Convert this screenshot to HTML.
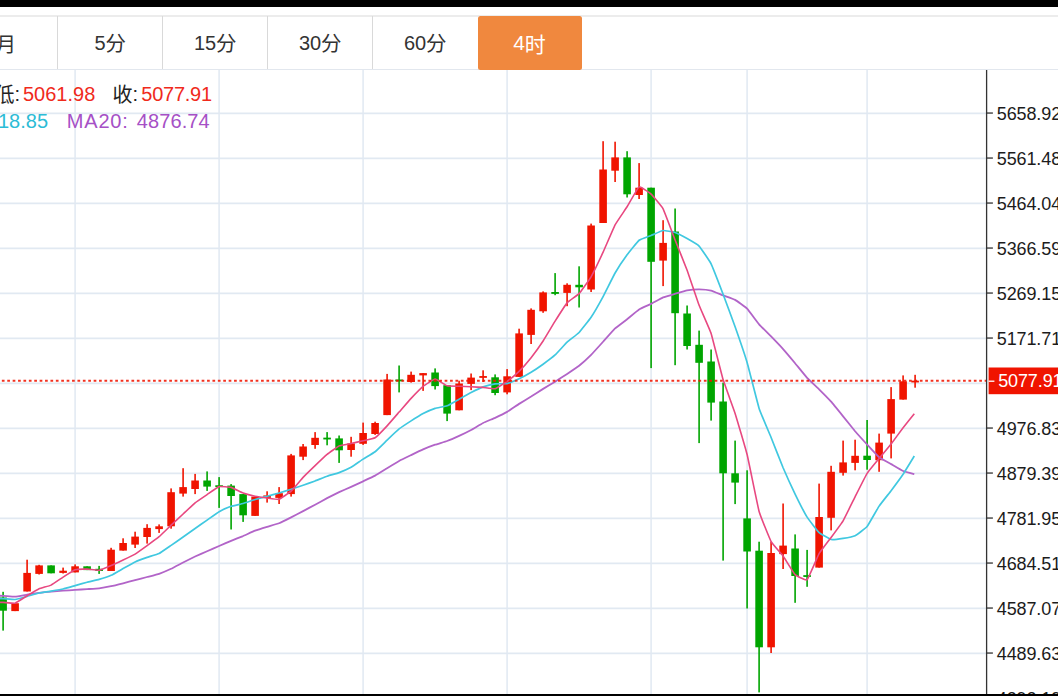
<!DOCTYPE html>
<html><head><meta charset="utf-8"><title>chart</title>
<style>
html,body{margin:0;padding:0;background:#fff;}
body{width:1058px;height:696px;position:relative;overflow:hidden;font-family:"Liberation Sans",sans-serif;}
.abs{position:absolute;}
.t{position:absolute;white-space:pre;line-height:1;font-family:"Liberation Sans",sans-serif;}
.c{font-family:"Liberation Sans","Noto Sans CJK SC",sans-serif;}
</style></head><body>
<div class="abs" style="left:0;top:0;width:1058px;height:7px;background:#000"></div>
<div class="abs" style="left:0;top:15.3px;width:1058px;height:1.5px;background:#ececec"></div>
<div class="abs" style="left:0;top:69px;width:1058px;height:1.4px;background:#e2e7ee"></div>
<div class="abs" style="left:57px;top:16px;width:1px;height:53px;background:#d9d9d9"></div>
<div class="abs" style="left:162px;top:16px;width:1px;height:53px;background:#d9d9d9"></div>
<div class="abs" style="left:267px;top:16px;width:1px;height:53px;background:#d9d9d9"></div>
<div class="abs" style="left:372px;top:16px;width:1px;height:53px;background:#d9d9d9"></div>
<div class="abs" style="left:478.2px;top:16.4px;width:104px;height:53.2px;background:#f0883e;border-radius:2.5px"></div>
<svg width="1058" height="626" viewBox="0 70 1058 626" style="position:absolute;left:0;top:70px;display:block"><line x1="0" y1="113.40" x2="986.60" y2="113.40" stroke="#e1e9f2" stroke-width="1.6"/><line x1="0" y1="158.40" x2="986.60" y2="158.40" stroke="#e1e9f2" stroke-width="1.6"/><line x1="0" y1="203.40" x2="986.60" y2="203.40" stroke="#e1e9f2" stroke-width="1.6"/><line x1="0" y1="248.40" x2="986.60" y2="248.40" stroke="#e1e9f2" stroke-width="1.6"/><line x1="0" y1="293.40" x2="986.60" y2="293.40" stroke="#e1e9f2" stroke-width="1.6"/><line x1="0" y1="338.40" x2="986.60" y2="338.40" stroke="#e1e9f2" stroke-width="1.6"/><line x1="0" y1="383.40" x2="986.60" y2="383.40" stroke="#e1e9f2" stroke-width="1.6"/><line x1="0" y1="428.40" x2="986.60" y2="428.40" stroke="#e1e9f2" stroke-width="1.6"/><line x1="0" y1="473.40" x2="986.60" y2="473.40" stroke="#e1e9f2" stroke-width="1.6"/><line x1="0" y1="518.40" x2="986.60" y2="518.40" stroke="#e1e9f2" stroke-width="1.6"/><line x1="0" y1="563.40" x2="986.60" y2="563.40" stroke="#e1e9f2" stroke-width="1.6"/><line x1="0" y1="608.40" x2="986.60" y2="608.40" stroke="#e1e9f2" stroke-width="1.6"/><line x1="0" y1="653.40" x2="986.60" y2="653.40" stroke="#e1e9f2" stroke-width="1.6"/><line x1="75.10" y1="70" x2="75.10" y2="696" stroke="#e1e9f2" stroke-width="1.5"/><line x1="219.10" y1="70" x2="219.10" y2="696" stroke="#e1e9f2" stroke-width="1.5"/><line x1="363.10" y1="70" x2="363.10" y2="696" stroke="#e1e9f2" stroke-width="1.5"/><line x1="507.10" y1="70" x2="507.10" y2="696" stroke="#e1e9f2" stroke-width="1.5"/><line x1="651.10" y1="70" x2="651.10" y2="696" stroke="#e1e9f2" stroke-width="1.5"/><line x1="747.10" y1="70" x2="747.10" y2="696" stroke="#e1e9f2" stroke-width="1.5"/><line x1="867.10" y1="70" x2="867.10" y2="696" stroke="#e1e9f2" stroke-width="1.5"/><rect x="2.30" y="591.80" width="1.60" height="38.80" fill="#00a500"/><rect x="-0.70" y="597.50" width="7.60" height="13.20" fill="#00a500"/><rect x="14.30" y="603.20" width="1.60" height="7.90" fill="#f01400"/><rect x="11.30" y="603.20" width="7.60" height="7.90" fill="#f01400"/><rect x="26.30" y="559.70" width="1.60" height="31.80" fill="#f01400"/><rect x="23.30" y="572.90" width="7.60" height="18.60" fill="#f01400"/><rect x="38.30" y="564.80" width="1.60" height="9.70" fill="#f01400"/><rect x="35.30" y="565.40" width="7.60" height="8.50" fill="#f01400"/><rect x="50.30" y="565.40" width="1.60" height="7.90" fill="#00a500"/><rect x="47.30" y="565.40" width="7.60" height="7.90" fill="#00a500"/><rect x="62.30" y="567.60" width="1.60" height="5.90" fill="#f01400"/><rect x="59.30" y="570.70" width="7.60" height="2.20" fill="#f01400"/><rect x="74.30" y="564.40" width="1.60" height="8.00" fill="#f01400"/><rect x="71.30" y="566.30" width="7.60" height="6.10" fill="#f01400"/><rect x="86.30" y="566.30" width="1.60" height="3.80" fill="#00a500"/><rect x="83.30" y="566.30" width="7.60" height="3.80" fill="#00a500"/><rect x="98.30" y="565.90" width="1.60" height="8.00" fill="#00a500"/><rect x="95.30" y="568.80" width="7.60" height="2.20" fill="#00a500"/><rect x="110.30" y="547.80" width="1.60" height="23.20" fill="#f01400"/><rect x="107.30" y="549.70" width="7.60" height="21.30" fill="#f01400"/><rect x="122.30" y="538.30" width="1.60" height="12.30" fill="#f01400"/><rect x="119.30" y="543.00" width="7.60" height="7.60" fill="#f01400"/><rect x="134.30" y="531.70" width="1.60" height="16.30" fill="#f01400"/><rect x="131.30" y="536.60" width="7.60" height="8.00" fill="#f01400"/><rect x="146.30" y="524.20" width="1.60" height="19.40" fill="#f01400"/><rect x="143.30" y="527.90" width="7.60" height="9.10" fill="#f01400"/><rect x="158.30" y="524.40" width="1.60" height="8.50" fill="#f01400"/><rect x="155.30" y="526.30" width="7.60" height="2.80" fill="#f01400"/><rect x="170.30" y="488.40" width="1.60" height="40.30" fill="#f01400"/><rect x="167.30" y="492.20" width="7.60" height="34.10" fill="#f01400"/><rect x="182.30" y="468.20" width="1.60" height="28.40" fill="#f01400"/><rect x="179.30" y="487.10" width="7.60" height="6.50" fill="#f01400"/><rect x="194.30" y="473.90" width="1.60" height="20.20" fill="#f01400"/><rect x="191.30" y="480.50" width="7.60" height="8.50" fill="#f01400"/><rect x="206.30" y="471.40" width="1.60" height="19.50" fill="#00a500"/><rect x="203.30" y="480.50" width="7.60" height="6.10" fill="#00a500"/><rect x="218.30" y="477.10" width="1.60" height="30.80" fill="#00a500"/><rect x="215.30" y="485.25" width="7.60" height="1.80" fill="#00a500"/><rect x="230.30" y="484.10" width="1.60" height="45.40" fill="#00a500"/><rect x="227.30" y="485.60" width="7.60" height="10.40" fill="#00a500"/><rect x="242.30" y="494.10" width="1.60" height="27.80" fill="#00a500"/><rect x="239.30" y="494.10" width="7.60" height="21.20" fill="#00a500"/><rect x="254.30" y="496.60" width="1.60" height="19.30" fill="#f01400"/><rect x="251.30" y="496.60" width="7.60" height="19.30" fill="#f01400"/><rect x="266.30" y="491.30" width="1.60" height="11.30" fill="#f01400"/><rect x="263.30" y="495.40" width="7.60" height="2.50" fill="#f01400"/><rect x="278.30" y="487.10" width="1.60" height="16.90" fill="#f01400"/><rect x="275.30" y="493.20" width="7.60" height="4.70" fill="#f01400"/><rect x="290.30" y="453.90" width="1.60" height="42.70" fill="#f01400"/><rect x="287.30" y="455.40" width="7.60" height="38.70" fill="#f01400"/><rect x="302.30" y="444.00" width="1.60" height="16.10" fill="#f01400"/><rect x="299.30" y="446.50" width="7.60" height="10.20" fill="#f01400"/><rect x="314.30" y="432.10" width="1.60" height="16.70" fill="#f01400"/><rect x="311.30" y="437.80" width="7.60" height="7.20" fill="#f01400"/><rect x="326.30" y="432.10" width="1.60" height="13.20" fill="#00a500"/><rect x="323.30" y="437.65" width="7.60" height="1.80" fill="#00a500"/><rect x="338.30" y="435.50" width="1.60" height="27.40" fill="#00a500"/><rect x="335.30" y="438.40" width="7.60" height="11.90" fill="#00a500"/><rect x="350.30" y="436.80" width="1.60" height="19.90" fill="#f01400"/><rect x="347.30" y="443.40" width="7.60" height="6.60" fill="#f01400"/><rect x="362.30" y="422.60" width="1.60" height="22.30" fill="#f01400"/><rect x="359.30" y="433.00" width="7.60" height="10.80" fill="#f01400"/><rect x="374.30" y="421.70" width="1.60" height="13.20" fill="#f01400"/><rect x="371.30" y="423.00" width="7.60" height="11.00" fill="#f01400"/><rect x="386.30" y="373.90" width="1.60" height="41.20" fill="#f01400"/><rect x="383.30" y="379.50" width="7.60" height="35.60" fill="#f01400"/><rect x="398.30" y="365.50" width="1.60" height="26.90" fill="#00a500"/><rect x="395.30" y="379.50" width="7.60" height="1.90" fill="#00a500"/><rect x="410.30" y="371.60" width="1.60" height="11.00" fill="#f01400"/><rect x="407.30" y="374.80" width="7.60" height="7.20" fill="#f01400"/><rect x="422.30" y="373.10" width="1.60" height="17.80" fill="#f01400"/><rect x="419.30" y="373.10" width="7.60" height="2.30" fill="#f01400"/><rect x="434.30" y="368.40" width="1.60" height="21.10" fill="#00a500"/><rect x="431.30" y="372.50" width="7.60" height="13.60" fill="#00a500"/><rect x="446.30" y="385.20" width="1.60" height="35.90" fill="#00a500"/><rect x="443.30" y="385.20" width="7.60" height="28.40" fill="#00a500"/><rect x="458.30" y="380.70" width="1.60" height="29.60" fill="#f01400"/><rect x="455.30" y="383.50" width="7.60" height="26.80" fill="#f01400"/><rect x="470.30" y="373.50" width="1.60" height="16.60" fill="#f01400"/><rect x="467.30" y="377.60" width="7.60" height="6.30" fill="#f01400"/><rect x="482.30" y="370.30" width="1.60" height="11.70" fill="#f01400"/><rect x="479.30" y="376.05" width="7.60" height="1.80" fill="#f01400"/><rect x="494.30" y="374.40" width="1.60" height="20.80" fill="#00a500"/><rect x="491.30" y="377.30" width="7.60" height="15.70" fill="#00a500"/><rect x="506.30" y="369.10" width="1.60" height="25.20" fill="#f01400"/><rect x="503.30" y="376.30" width="7.60" height="16.10" fill="#f01400"/><rect x="518.30" y="328.70" width="1.60" height="48.20" fill="#f01400"/><rect x="515.30" y="333.40" width="7.60" height="43.50" fill="#f01400"/><rect x="530.30" y="308.40" width="1.60" height="35.60" fill="#f01400"/><rect x="527.30" y="309.80" width="7.60" height="25.10" fill="#f01400"/><rect x="542.30" y="291.40" width="1.60" height="21.40" fill="#f01400"/><rect x="539.30" y="292.40" width="7.60" height="18.90" fill="#f01400"/><rect x="554.30" y="273.10" width="1.60" height="22.10" fill="#00a500"/><rect x="551.30" y="292.00" width="7.60" height="1.90" fill="#00a500"/><rect x="566.30" y="283.30" width="1.60" height="22.90" fill="#f01400"/><rect x="563.30" y="284.80" width="7.60" height="8.10" fill="#f01400"/><rect x="578.30" y="266.30" width="1.60" height="41.20" fill="#00a500"/><rect x="575.30" y="284.80" width="7.60" height="2.50" fill="#00a500"/><rect x="590.30" y="223.60" width="1.60" height="68.40" fill="#f01400"/><rect x="587.30" y="225.50" width="7.60" height="64.00" fill="#f01400"/><rect x="602.30" y="141.20" width="1.60" height="81.80" fill="#f01400"/><rect x="599.30" y="169.50" width="7.60" height="53.50" fill="#f01400"/><rect x="614.30" y="141.70" width="1.60" height="40.30" fill="#f01400"/><rect x="611.30" y="157.40" width="7.60" height="13.30" fill="#f01400"/><rect x="626.30" y="151.20" width="1.60" height="46.30" fill="#00a500"/><rect x="623.30" y="157.40" width="7.60" height="36.90" fill="#00a500"/><rect x="638.30" y="163.10" width="1.60" height="35.90" fill="#f01400"/><rect x="635.30" y="187.70" width="7.60" height="7.30" fill="#f01400"/><rect x="650.30" y="187.70" width="1.60" height="180.40" fill="#00a500"/><rect x="647.30" y="187.70" width="7.60" height="74.10" fill="#00a500"/><rect x="662.30" y="220.20" width="1.60" height="65.90" fill="#f01400"/><rect x="659.30" y="242.90" width="7.60" height="17.70" fill="#f01400"/><rect x="674.30" y="208.50" width="1.60" height="156.70" fill="#00a500"/><rect x="671.30" y="231.50" width="7.60" height="81.70" fill="#00a500"/><rect x="686.30" y="305.50" width="1.60" height="44.00" fill="#00a500"/><rect x="683.30" y="313.50" width="7.60" height="32.50" fill="#00a500"/><rect x="698.30" y="330.60" width="1.60" height="112.50" fill="#00a500"/><rect x="695.30" y="344.80" width="7.60" height="18.00" fill="#00a500"/><rect x="710.30" y="349.50" width="1.60" height="71.10" fill="#00a500"/><rect x="707.30" y="361.50" width="7.60" height="41.10" fill="#00a500"/><rect x="722.30" y="382.60" width="1.60" height="178.00" fill="#00a500"/><rect x="719.30" y="401.50" width="7.60" height="71.80" fill="#00a500"/><rect x="734.30" y="440.60" width="1.60" height="63.50" fill="#00a500"/><rect x="731.30" y="473.30" width="7.60" height="9.30" fill="#00a500"/><rect x="746.30" y="470.30" width="1.60" height="138.20" fill="#00a500"/><rect x="743.30" y="518.40" width="7.60" height="33.10" fill="#00a500"/><rect x="758.30" y="541.70" width="1.60" height="150.70" fill="#00a500"/><rect x="755.30" y="550.70" width="7.60" height="96.60" fill="#00a500"/><rect x="770.30" y="541.70" width="1.60" height="111.30" fill="#f01400"/><rect x="767.30" y="553.00" width="7.60" height="94.30" fill="#f01400"/><rect x="782.30" y="503.50" width="1.60" height="65.50" fill="#f01400"/><rect x="779.30" y="545.60" width="7.60" height="8.50" fill="#f01400"/><rect x="794.30" y="534.40" width="1.60" height="68.40" fill="#00a500"/><rect x="791.30" y="548.50" width="7.60" height="27.50" fill="#00a500"/><rect x="806.30" y="549.90" width="1.60" height="36.90" fill="#00a500"/><rect x="803.30" y="575.15" width="7.60" height="1.80" fill="#00a500"/><rect x="818.30" y="483.60" width="1.60" height="84.00" fill="#f01400"/><rect x="815.30" y="517.00" width="7.60" height="50.60" fill="#f01400"/><rect x="830.30" y="465.80" width="1.60" height="64.60" fill="#f01400"/><rect x="827.30" y="471.80" width="7.60" height="46.00" fill="#f01400"/><rect x="842.30" y="440.60" width="1.60" height="35.00" fill="#f01400"/><rect x="839.30" y="462.40" width="7.60" height="10.40" fill="#f01400"/><rect x="854.30" y="439.70" width="1.60" height="30.60" fill="#f01400"/><rect x="851.30" y="455.80" width="7.60" height="7.10" fill="#f01400"/><rect x="866.30" y="420.00" width="1.60" height="49.70" fill="#00a500"/><rect x="863.30" y="455.70" width="7.60" height="4.30" fill="#00a500"/><rect x="878.30" y="433.60" width="1.60" height="38.20" fill="#f01400"/><rect x="875.30" y="442.60" width="7.60" height="17.60" fill="#f01400"/><rect x="890.30" y="387.10" width="1.60" height="71.30" fill="#f01400"/><rect x="887.30" y="399.10" width="7.60" height="34.50" fill="#f01400"/><rect x="902.30" y="375.40" width="1.60" height="24.20" fill="#f01400"/><rect x="899.30" y="381.30" width="7.60" height="18.30" fill="#f01400"/><rect x="914.30" y="374.80" width="1.60" height="12.90" fill="#f01400"/><rect x="911.30" y="380.65" width="7.60" height="1.80" fill="#f01400"/><path d="M-8.90 595.56C-8.30 595.57 1.90 595.75 3.10 595.80C4.30 595.85 13.90 596.66 15.10 596.60C16.30 596.54 25.90 594.79 27.10 594.60C28.30 594.41 37.90 592.95 39.10 592.80C40.30 592.65 49.90 591.71 51.10 591.60C52.30 591.50 61.90 590.79 63.10 590.70C64.30 590.62 73.90 589.98 75.10 589.90C76.30 589.82 85.90 589.18 87.10 589.10C88.30 589.02 97.90 588.44 99.10 588.30C100.30 588.15 109.90 586.45 111.10 586.20C112.30 585.95 121.90 583.60 123.10 583.30C124.30 583.00 133.90 580.41 135.10 580.10C136.30 579.79 145.90 577.32 147.10 577.00C148.30 576.68 157.90 574.21 159.10 573.80C160.30 573.39 169.90 569.37 171.10 568.80C172.30 568.23 181.90 563.12 183.10 562.50C184.30 561.88 193.90 557.06 195.10 556.50C196.30 555.94 205.90 551.79 207.10 551.27C208.30 550.75 217.90 546.56 219.10 546.04C220.30 545.52 229.90 541.31 231.10 540.81C232.30 540.31 241.90 536.54 243.10 536.04C244.30 535.53 253.90 531.17 255.10 530.71C256.30 530.25 265.90 527.21 267.10 526.84C268.30 526.46 277.90 523.70 279.10 523.23C280.30 522.75 289.90 517.94 291.10 517.33C292.30 516.72 301.90 511.75 303.10 511.12C304.30 510.49 313.90 505.34 315.10 504.69C316.30 504.05 325.90 498.78 327.10 498.16C328.30 497.53 337.90 492.69 339.10 492.12C340.30 491.55 349.90 487.35 351.10 486.81C352.30 486.26 361.90 481.86 363.10 481.31C364.30 480.75 373.90 476.28 375.10 475.62C376.30 474.97 385.90 468.94 387.10 468.21C388.30 467.47 397.90 461.62 399.10 460.96C400.30 460.30 409.90 455.67 411.10 455.09C412.30 454.51 421.90 449.91 423.10 449.39C424.30 448.87 433.90 445.09 435.10 444.67C436.30 444.25 445.90 441.46 447.10 441.02C448.30 440.58 457.90 436.41 459.10 435.86C460.30 435.31 469.90 430.58 471.10 429.94C472.30 429.30 481.90 423.60 483.10 422.99C484.30 422.38 493.90 418.37 495.10 417.81C496.30 417.25 505.90 412.55 507.10 411.86C508.30 411.16 517.90 404.63 519.10 403.87C520.30 403.10 529.90 397.33 531.10 396.58C532.30 395.84 541.90 389.62 543.10 388.88C544.30 388.13 553.90 382.43 555.10 381.69C556.30 380.94 565.90 374.75 567.10 373.96C568.30 373.17 577.90 366.76 579.10 365.81C580.30 364.86 589.90 356.12 591.10 354.92C592.30 353.71 601.90 343.06 603.10 341.74C604.30 340.42 613.90 329.59 615.10 328.46C616.30 327.33 625.90 320.15 627.10 319.20C628.30 318.25 637.90 310.28 639.10 309.51C640.30 308.75 649.90 304.47 651.10 303.87C652.30 303.26 661.90 297.86 663.10 297.36C664.30 296.85 673.90 294.06 675.10 293.71C676.30 293.36 685.90 290.55 687.10 290.33C688.30 290.11 697.90 289.28 699.10 289.29C700.30 289.31 709.90 290.24 711.10 290.54C712.30 290.85 721.90 294.93 723.10 295.39C724.30 295.86 733.90 299.21 735.10 299.88C736.30 300.54 745.90 307.41 747.10 308.63C748.30 309.86 757.90 322.94 759.10 324.33C760.30 325.72 769.90 335.25 771.10 336.49C772.30 337.73 781.90 347.81 783.10 349.15C784.30 350.49 793.90 361.82 795.10 363.25C796.30 364.69 805.90 376.56 807.10 377.86C808.30 379.16 817.90 388.15 819.10 389.34C820.30 390.53 829.90 400.31 831.10 401.66C832.30 403.01 841.90 414.83 843.10 416.31C844.30 417.78 853.90 429.81 855.10 431.23C856.30 432.64 865.90 443.21 867.10 444.51C868.30 445.81 877.90 456.27 879.10 457.25C880.30 458.24 889.90 463.43 891.10 464.12C892.30 464.81 901.94 470.54 903.10 471.04C904.26 471.54 913.74 474.04 914.30 474.19" fill="none" stroke="#b264c8" stroke-width="1.8" stroke-linejoin="round" stroke-linecap="butt"/><path d="M-8.90 598.46C-8.30 598.47 1.90 598.65 3.10 598.70C4.30 598.75 13.90 599.62 15.10 599.50C16.30 599.38 25.90 596.73 27.10 596.40C28.30 596.07 37.90 593.26 39.10 593.00C40.30 592.74 49.90 591.30 51.10 591.10C52.30 590.90 61.90 589.27 63.10 589.00C64.30 588.73 73.90 585.94 75.10 585.60C76.30 585.26 85.90 582.51 87.10 582.20C88.30 581.89 97.90 579.74 99.10 579.40C100.30 579.06 109.90 575.87 111.10 575.33C112.30 574.79 121.90 569.23 123.10 568.56C124.30 567.89 133.90 562.46 135.10 561.90C136.30 561.34 145.90 557.82 147.10 557.40C148.30 556.98 157.90 554.09 159.10 553.49C160.30 552.89 169.90 546.20 171.10 545.38C172.30 544.56 181.90 537.87 183.10 537.02C184.30 536.17 193.90 529.29 195.10 528.44C196.30 527.59 205.90 520.93 207.10 520.09C208.30 519.25 217.90 512.35 219.10 511.66C220.30 510.97 229.90 506.70 231.10 506.29C232.30 505.88 241.90 503.86 243.10 503.52C244.30 503.18 253.90 499.88 255.10 499.52C256.30 499.16 265.90 496.60 267.10 496.27C268.30 495.94 277.90 493.31 279.10 492.96C280.30 492.61 289.90 489.67 291.10 489.28C292.30 488.89 301.90 485.64 303.10 485.22C304.30 484.80 313.90 481.40 315.10 480.95C316.30 480.50 325.90 476.64 327.10 476.22C328.30 475.80 337.90 473.03 339.10 472.58C340.30 472.14 349.90 467.99 351.10 467.32C352.30 466.65 361.90 459.87 363.10 459.09C364.30 458.31 373.90 452.68 375.10 451.73C376.30 450.78 385.90 441.28 387.10 440.14C388.30 439.00 397.90 429.92 399.10 428.96C400.30 428.00 409.90 421.67 411.10 420.90C412.30 420.13 421.90 414.19 423.10 413.56C424.30 412.93 433.90 408.78 435.10 408.39C436.30 408.00 445.90 406.28 447.10 405.82C448.30 405.36 457.90 399.80 459.10 399.14C460.30 398.48 469.90 393.17 471.10 392.56C472.30 391.95 481.90 387.32 483.10 386.89C484.30 386.46 493.90 384.06 495.10 383.89C496.30 383.72 505.90 383.83 507.10 383.57C508.30 383.31 517.90 379.34 519.10 378.77C520.30 378.21 529.90 373.00 531.10 372.27C532.30 371.54 541.90 365.06 543.10 364.20C544.30 363.34 553.90 356.09 555.10 354.98C556.30 353.88 565.90 343.23 567.10 342.10C568.30 340.98 577.90 333.72 579.10 332.48C580.30 331.24 589.90 319.06 591.10 317.27C592.30 315.48 601.90 298.80 603.10 296.59C604.30 294.38 613.90 275.12 615.10 273.03C616.30 270.94 625.90 256.47 627.10 254.83C628.30 253.19 637.90 241.23 639.10 240.26C640.30 239.29 649.90 235.95 651.10 235.46C652.30 234.97 661.90 230.66 663.10 230.51C664.30 230.36 673.90 232.04 675.10 232.44C676.30 232.84 685.90 237.88 687.10 238.56C688.30 239.24 697.90 244.85 699.10 246.11C700.30 247.37 709.90 261.42 711.10 263.82C712.30 266.22 721.90 291.06 723.10 294.20C724.30 297.34 733.90 323.31 735.10 326.72C736.30 330.13 745.90 358.36 747.10 362.44C748.30 366.52 757.90 404.65 759.10 408.40C760.30 412.15 769.90 434.55 771.10 437.52C772.30 440.49 781.90 464.96 783.10 467.79C784.30 470.62 793.90 491.60 795.10 494.07C796.30 496.54 805.90 515.23 807.10 517.16C808.30 519.09 817.90 531.46 819.10 532.58C820.30 533.70 829.90 539.21 831.10 539.50C832.30 539.79 841.90 538.60 843.10 538.41C844.30 538.22 853.90 536.32 855.10 535.73C856.30 535.14 865.90 528.06 867.10 526.58C868.30 525.10 877.90 507.90 879.10 506.11C880.30 504.32 889.90 492.31 891.10 490.72C892.30 489.13 901.94 476.02 903.10 474.29C904.26 472.56 913.74 456.98 914.30 456.07" fill="none" stroke="#40c8e0" stroke-width="1.7" stroke-linejoin="round" stroke-linecap="butt"/><path d="M-8.90 602.16C-8.30 602.17 1.90 602.35 3.10 602.40C4.30 602.45 13.90 603.53 15.10 603.20C16.30 602.87 25.90 596.52 27.10 595.80C28.30 595.08 37.90 589.33 39.10 588.80C40.30 588.26 49.90 585.69 51.10 585.10C52.30 584.51 61.90 577.87 63.10 577.10C64.30 576.33 73.90 570.12 75.10 569.72C76.30 569.32 85.90 569.13 87.10 569.16C88.30 569.19 97.90 570.46 99.10 570.28C100.30 570.10 109.90 566.07 111.10 565.56C112.30 565.05 121.90 560.59 123.10 560.02C124.30 559.45 133.90 554.80 135.10 554.08C136.30 553.36 145.90 546.51 147.10 545.64C148.30 544.77 157.90 537.72 159.10 536.70C160.30 535.68 169.90 526.33 171.10 525.20C172.30 524.07 181.90 515.14 183.10 514.02C184.30 512.90 193.90 503.77 195.10 502.80C196.30 501.83 205.90 495.35 207.10 494.54C208.30 493.73 217.90 486.98 219.10 486.62C220.30 486.26 229.90 487.06 231.10 487.38C232.30 487.70 241.90 492.58 243.10 493.02C244.30 493.46 253.90 495.99 255.10 496.24C256.30 496.49 265.90 497.85 267.10 498.00C268.30 498.15 277.90 499.64 279.10 499.30C280.30 498.96 289.90 492.27 291.10 491.18C292.30 490.09 301.90 478.70 303.10 477.42C304.30 476.14 313.90 466.81 315.10 465.66C316.30 464.51 325.90 455.43 327.10 454.44C328.30 453.45 337.90 446.41 339.10 445.86C340.30 445.31 349.90 443.72 351.10 443.46C352.30 443.21 361.90 441.04 363.10 440.76C364.30 440.48 373.90 438.55 375.10 437.80C376.30 437.05 385.90 427.13 387.10 425.84C388.30 424.55 397.90 413.44 399.10 412.06C400.30 410.69 409.90 399.63 411.10 398.34C412.30 397.06 421.90 387.33 423.10 386.36C424.30 385.39 433.90 379.01 435.10 378.98C436.30 378.95 445.90 385.44 447.10 385.80C448.30 386.16 457.90 386.17 459.10 386.22C460.30 386.27 469.90 386.72 471.10 386.78C472.30 386.84 481.90 387.32 483.10 387.42C484.30 387.52 493.90 389.10 495.10 388.80C496.30 388.50 505.90 382.21 507.10 381.34C508.30 380.47 517.90 372.50 519.10 371.32C520.30 370.14 529.90 359.28 531.10 357.76C532.30 356.24 541.90 342.81 543.10 340.98C544.30 339.15 553.90 323.07 555.10 321.16C556.30 319.25 565.90 304.24 567.10 302.86C568.30 301.48 577.90 294.94 579.10 293.64C580.30 292.34 589.90 278.85 591.10 276.78C592.30 274.71 601.90 254.79 603.10 252.20C604.30 249.61 613.90 227.17 615.10 224.90C616.30 222.63 625.90 208.70 627.10 206.80C628.30 204.90 637.90 187.51 639.10 186.88C640.30 186.25 649.90 193.04 651.10 194.14C652.30 195.24 661.90 206.53 663.10 208.82C664.30 211.11 673.90 236.91 675.10 239.98C676.30 243.06 685.90 267.05 687.10 270.32C688.30 273.59 697.90 302.18 699.10 305.34C700.30 308.50 709.90 329.79 711.10 333.50C712.30 337.21 721.90 375.58 723.10 379.58C724.30 383.58 733.90 409.71 735.10 413.46C736.30 417.21 745.90 449.66 747.10 454.56C748.30 459.46 757.90 507.11 759.10 511.46C760.30 515.81 769.90 539.31 771.10 541.54C772.30 543.77 781.90 554.34 783.10 556.00C784.30 557.66 793.90 573.49 795.10 574.68C796.30 575.87 805.90 580.81 807.10 579.76C808.30 578.71 817.90 555.82 819.10 553.70C820.30 551.59 829.90 539.10 831.10 537.46C832.30 535.82 841.90 522.85 843.10 520.82C844.30 518.79 853.90 499.15 855.10 496.78C856.30 494.41 865.90 475.31 867.10 473.40C868.30 471.49 877.90 459.99 879.10 458.52C880.30 457.05 889.90 445.52 891.10 443.98C892.30 442.44 901.94 429.27 903.10 427.76C904.26 426.25 913.74 414.46 914.30 413.76" fill="none" stroke="#e84880" stroke-width="1.6" stroke-linejoin="round" stroke-linecap="butt"/><line x1="-3.55" y1="380.8" x2="986.0" y2="380.8" stroke="#f01400" stroke-opacity="0.88" stroke-width="2.1" stroke-dasharray="2.7 2.7"/><rect x="985.95" y="70" width="1.3" height="626" fill="#333"/><rect x="986.60" y="112.40" width="6.3" height="1.3" fill="#333"/><text x="996.8" y="119.65" font-family="Liberation Sans, sans-serif" font-size="18" letter-spacing="-0.12" fill="#1c1c1c">5658.92</text><rect x="986.60" y="157.40" width="6.3" height="1.3" fill="#333"/><text x="996.8" y="164.65" font-family="Liberation Sans, sans-serif" font-size="18" letter-spacing="-0.12" fill="#1c1c1c">5561.48</text><rect x="986.60" y="202.40" width="6.3" height="1.3" fill="#333"/><text x="996.8" y="209.65" font-family="Liberation Sans, sans-serif" font-size="18" letter-spacing="-0.12" fill="#1c1c1c">5464.04</text><rect x="986.60" y="247.40" width="6.3" height="1.3" fill="#333"/><text x="996.8" y="254.65" font-family="Liberation Sans, sans-serif" font-size="18" letter-spacing="-0.12" fill="#1c1c1c">5366.59</text><rect x="986.60" y="292.40" width="6.3" height="1.3" fill="#333"/><text x="996.8" y="299.65" font-family="Liberation Sans, sans-serif" font-size="18" letter-spacing="-0.12" fill="#1c1c1c">5269.15</text><rect x="986.60" y="337.40" width="6.3" height="1.3" fill="#333"/><text x="996.8" y="344.65" font-family="Liberation Sans, sans-serif" font-size="18" letter-spacing="-0.12" fill="#1c1c1c">5171.71</text><rect x="986.60" y="427.40" width="6.3" height="1.3" fill="#333"/><text x="996.8" y="434.65" font-family="Liberation Sans, sans-serif" font-size="18" letter-spacing="-0.12" fill="#1c1c1c">4976.83</text><rect x="986.60" y="472.40" width="6.3" height="1.3" fill="#333"/><text x="996.8" y="479.65" font-family="Liberation Sans, sans-serif" font-size="18" letter-spacing="-0.12" fill="#1c1c1c">4879.39</text><rect x="986.60" y="517.40" width="6.3" height="1.3" fill="#333"/><text x="996.8" y="524.65" font-family="Liberation Sans, sans-serif" font-size="18" letter-spacing="-0.12" fill="#1c1c1c">4781.95</text><rect x="986.60" y="562.40" width="6.3" height="1.3" fill="#333"/><text x="996.8" y="569.65" font-family="Liberation Sans, sans-serif" font-size="18" letter-spacing="-0.12" fill="#1c1c1c">4684.51</text><rect x="986.60" y="607.40" width="6.3" height="1.3" fill="#333"/><text x="996.8" y="614.65" font-family="Liberation Sans, sans-serif" font-size="18" letter-spacing="-0.12" fill="#1c1c1c">4587.07</text><rect x="986.60" y="652.40" width="6.3" height="1.3" fill="#333"/><text x="996.8" y="659.65" font-family="Liberation Sans, sans-serif" font-size="18" letter-spacing="-0.12" fill="#1c1c1c">4489.63</text><rect x="986.60" y="697.40" width="6.3" height="1.3" fill="#333"/><text x="996.8" y="704.65" font-family="Liberation Sans, sans-serif" font-size="18" letter-spacing="-0.12" fill="#1c1c1c">4392.19</text><rect x="988.6" y="367.5" width="70" height="26.7" fill="#f01400"/><rect x="988.6" y="380.55" width="5.8" height="1.3" fill="#fff"/><text x="998.2" y="387.4" font-family="Liberation Sans, sans-serif" font-size="18" letter-spacing="-0.12" fill="#fff">5077.91</text></svg>
<div class="t c" style="left:-4.00px;top:34.80px;font-size:20px;color:#333">月</div>
<div class="t" style="left:94.44px;top:33.30px;font-size:20px;color:#333">5</div><div class="t c" style="left:105.46px;top:34.00px;font-size:20.5px;color:#333">分</div>
<div class="t" style="left:193.88px;top:33.30px;font-size:20px;color:#333">15</div><div class="t c" style="left:216.02px;top:34.00px;font-size:20.5px;color:#333">分</div>
<div class="t" style="left:298.88px;top:33.30px;font-size:20px;color:#333">30</div><div class="t c" style="left:321.02px;top:34.00px;font-size:20.5px;color:#333">分</div>
<div class="t" style="left:403.88px;top:33.30px;font-size:20px;color:#333">60</div><div class="t c" style="left:426.02px;top:34.00px;font-size:20.5px;color:#333">分</div>
<div class="t" style="left:513.3px;top:32.39px;font-size:21px;color:#fff">4</div>
<div class="t c" style="left:524.65px;top:33.60px;font-size:21px;color:#fff">时</div>
<div class="t c" style="left:-5.60px;top:85.30px;font-size:20px;color:#222">低</div>
<div class="t" style="left:14.40px;top:84.20px;font-size:20px;color:#222;letter-spacing:0px">:</div>
<div class="t" style="left:23.00px;top:84.20px;font-size:20px;color:#f02a1c;letter-spacing:0px">5061.98</div>
<div class="t c" style="left:112.60px;top:85.30px;font-size:20px;color:#222">收</div>
<div class="t" style="left:132.60px;top:84.20px;font-size:20px;color:#222;letter-spacing:0px">:</div>
<div class="t" style="left:141.30px;top:84.20px;font-size:20px;color:#f02a1c;letter-spacing:-0.25px">5077.91</div>
<div class="t" style="left:-2.00px;top:110.90px;font-size:20px;color:#2cbcd6;letter-spacing:0px">18.85</div>
<div class="t" style="left:66.80px;top:110.90px;font-size:20px;color:#a650c6;letter-spacing:0.8px">MA20:</div>
<div class="t" style="left:136.70px;top:110.90px;font-size:20px;color:#a650c6;letter-spacing:0.12px">4876.74</div>
<div class="abs" style="left:0;top:694px;width:1058px;height:2px;background:#000"></div>
</body></html>
